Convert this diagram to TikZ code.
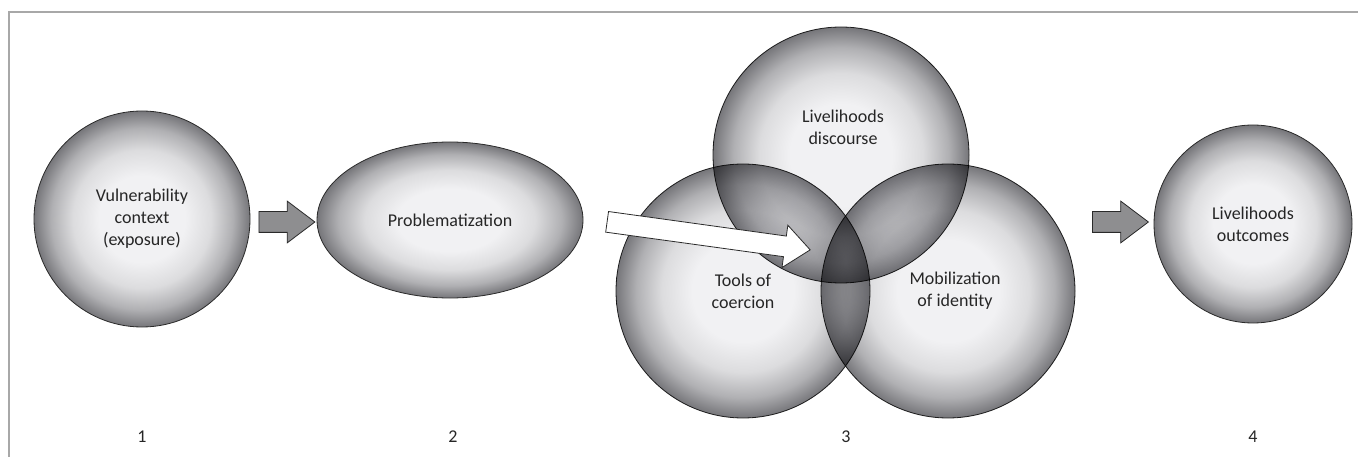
\documentclass[tikz,border=0pt]{standalone}
\usepackage{fontspec}
\setmainfont{Carlito}
\usetikzlibrary{shapes.geometric,shapes.arrows,calc}
\definecolor{ballin}{HTML}{F1F1F3}
\definecolor{ballmid}{HTML}{DCDCDE}
\definecolor{ballmid2}{HTML}{B0B0B3}
\definecolor{ballout}{HTML}{76767A}
\definecolor{rimc}{HTML}{2A2A2A}
\definecolor{framec}{HTML}{A8A8A8}
\definecolor{arrowfill}{HTML}{8E8E90}
\definecolor{txtc}{HTML}{262626}
\pgfdeclareradialshading{ballshade}{\pgfpoint{0bp}{0bp}}{color(0bp)=(ballin); color(10bp)=(ballin); color(16bp)=(ballmid); color(21bp)=(ballmid2); color(25bp)=(ballout); color(50bp)=(ballout)}
\tikzset{
  ball/.style={circle, draw=rimc, line width=0.8pt, shading=ballshade, inner sep=0pt},
  lbl/.style={font=\fontsize{18}{22}\selectfont, text=txtc, align=center},
  blockarrow/.style={single arrow, draw=rimc, line width=0.8pt, fill=arrowfill, inner xsep=0pt, inner ysep=10pt, single arrow head extend=10.5pt, single arrow tip angle=74, minimum width=41pt, minimum height=56pt},
  whitearrow/.style={single arrow, draw=rimc, line width=0.8pt, fill=white, inner xsep=0pt, inner ysep=10pt, single arrow head extend=11pt, single arrow tip angle=80, minimum width=42pt, minimum height=205pt},
  framestyle/.style={draw=framec, line width=1.5pt}
}
\begin{document}
\begin{tikzpicture}[x=1pt, y=-1pt]
\useasboundingbox (0,0) rectangle (1358,457);
\draw[framestyle] (9,457) -- (9,12) -- (1358,12);

% stage 1
\node[ball, minimum size=216pt, lbl] (c1) at (142,219) {Vulnerability\\context\\(exposure)};
% stage 2
\node[ball, ellipse, minimum width=266pt, minimum height=156pt, lbl] (c2) at (450,220) {Problematization};
% stage 3 (Venn)
\begin{scope}[blend mode=multiply]
\node[ball, minimum size=256pt] (vt) at (841,155) {};
\node[ball, minimum size=254pt] (vl) at (743,291) {};
\node[ball, minimum size=254pt] (vr) at (948,291) {};
\end{scope}
\node[lbl] (tt) at (843,127) {Livelihoods\\discourse};
\node[lbl] (tl) at (743,291) {Tools of\\coercion};
\node[lbl] (tr) at (955,291) {Mobilization\\of identity};
% stage 4
\node[ball, minimum size=198pt, lbl] (c4) at (1253,224) {Livelihoods\\outcomes};

% arrows
\node[blockarrow] (a1) at (280,222) {};
\node[blockarrow] (a2) at (1113.5,222) {};
\node[whitearrow, rotate=-7.86] (aw) at (702.5,235) {};

% stage numbers
\node[lbl] (n1) at (142,437) {1};
\node[lbl] (n2) at (453,437) {2};
\node[lbl] (n3) at (846,437) {3};
\node[lbl] (n4) at (1253,437) {4};
\end{tikzpicture}
\end{document}
